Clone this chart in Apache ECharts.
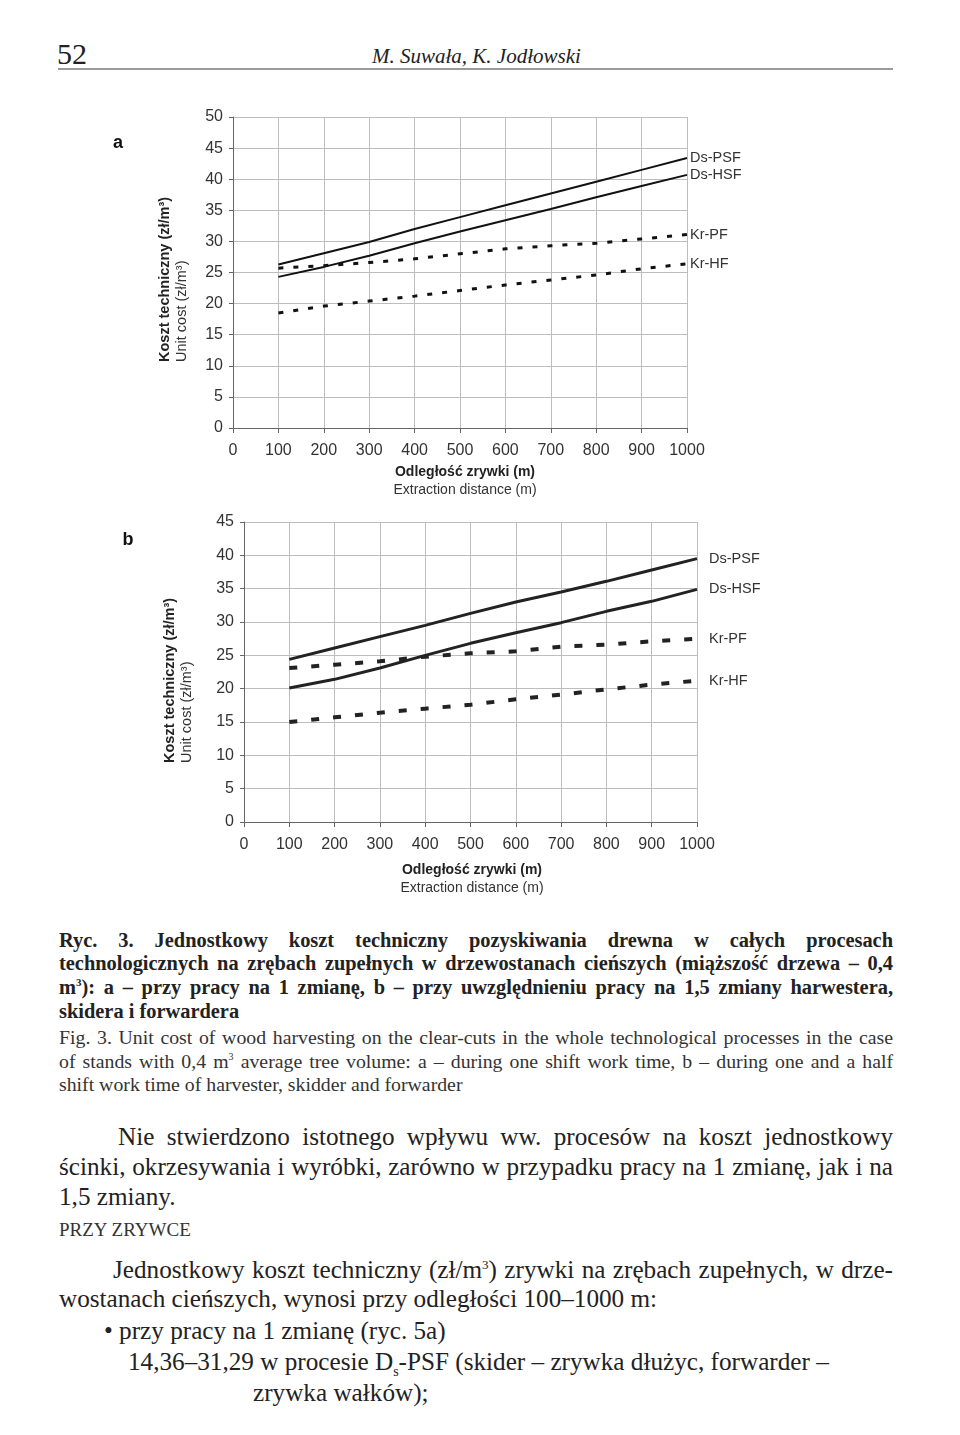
<!DOCTYPE html>
<html>
<head>
<meta charset="utf-8">
<script src="https://cdn.jsdelivr.net/npm/echarts@6/dist/echarts.min.js"></script>
<style>
  body { margin: 0; width: 960px; height: 1435px; background: #fff; position: relative; overflow: hidden;
         font-family: "Liberation Serif", serif; color: #222; }
  .abs { position: absolute; white-space: nowrap; }
  .j { position: absolute; text-align: justify; text-align-last: justify; }
  .cap { font-size: 20.4px; font-weight: bold; line-height: 24px; height: 24px; left: 59px; width: 834px; }
  .capr { font-size: 19.8px; line-height: 24px; height: 24px; left: 59px; width: 834px; color: #333; }
  .body { font-size: 25.2px; line-height: 30px; height: 30px; }
  #chartA { position: absolute; left: 0; top: 90px; width: 960px; height: 420px; }
  #chartB { position: absolute; left: 0; top: 500px; width: 960px; height: 400px; }
</style>
</head>
<body>
<div class="abs" style="left:57px;top:37px;font-size:30px;line-height:34px;">52</div>
<div class="abs" style="left:372px;top:42px;font-size:21px;line-height:28px;font-style:italic;">M. Suwała, K. Jodłowski</div>
<div class="abs" style="left:58px;top:68px;width:835px;height:2px;background:#9a9a9a;"></div>

<div id="chartA"></div>
<div id="chartB"></div>

<div class="j cap" style="top:928px;">Ryc. 3. Jednostkowy koszt techniczny pozyskiwania drewna w całych procesach</div>
<div class="j cap" style="top:951px;">technologicznych na zrębach zupełnych w drzewostanach cieńszych (miąższość drzewa – 0,4</div>
<div class="j cap" style="top:975px;">m<sup style="font-size:11px;line-height:0;">3</sup>): a – przy pracy na 1 zmianę, b – przy uwzględnieniu pracy na 1,5 zmiany harwestera,</div>
<div class="abs cap" style="top:999px;">skidera i forwardera</div>
<div class="j capr" style="top:1025px;">Fig. 3. Unit cost of wood harvesting on the clear-cuts in the whole technological processes in the case</div>
<div class="j capr" style="top:1049px;">of stands with 0,4 m<sup style="font-size:10px;line-height:0;">3</sup> average tree volume: a – during one shift work time, b – during one and a half</div>
<div class="abs capr" style="top:1072px;">shift work time of harvester, skidder and forwarder</div>

<div class="j body" style="top:1122px;left:118px;width:775px;">Nie stwierdzono istotnego wpływu ww. procesów na koszt jednostkowy</div>
<div class="j body" style="top:1152px;left:59px;width:834px;word-spacing:-3px;">ścinki, okrzesywania i wyróbki, zarówno w przypadku pracy na 1 zmianę, jak i na</div>
<div class="abs body" style="top:1182px;left:59px;">1,5 zmiany.</div>
<div class="abs" style="top:1219px;left:59px;font-size:19px;line-height:22px;color:#333;">PRZY ZRYWCE</div>
<div class="j body" style="top:1255px;left:113px;width:780px;word-spacing:-1px;">Jednostkowy koszt techniczny (zł/m<sup style="font-size:13px;line-height:0;">3</sup>) zrywki na zrębach zupełnych, w drze-</div>
<div class="abs body" style="top:1284px;left:59px;">wostanach cieńszych, wynosi przy odległości 100–1000 m:</div>
<div class="abs body" style="top:1316px;left:104px;">• przy pracy na 1 zmianę (ryc. 5a)</div>
<div class="abs body" style="top:1347px;left:128px;">14,36–31,29 w procesie D<sub style="font-size:14px;line-height:0;">s</sub>-PSF (skider – zrywka dłużyc, forwarder –</div>
<div class="abs body" style="top:1378px;left:253px;">zrywka wałków);</div>

<script>
  // odległość zrywki (m)
  const distances = [100, 200, 300, 400, 500, 600, 700, 800, 900, 1000];

  // wykres a – praca na 1 zmianę
  const dsPsfA = [26.3, 28.1, 29.9, 32.0, 33.9, 35.8, 37.7, 39.6, 41.5, 43.4];
  const dsHsfA = [24.3, 25.9, 27.7, 29.7, 31.6, 33.4, 35.2, 37.1, 38.9, 40.7];
  const krPfA = [25.7, 26.1, 26.6, 27.2, 28.0, 28.8, 29.3, 29.7, 30.4, 31.1];
  const krHfA = [18.5, 19.6, 20.4, 21.2, 22.1, 23.0, 23.8, 24.6, 25.6, 26.4];

  // wykres b – praca na 1,5 zmiany
  const dsPsfB = [24.4, 26.1, 27.8, 29.5, 31.3, 33.0, 34.5, 36.1, 37.8, 39.5];
  const dsHsfB = [20.1, 21.4, 23.1, 25.0, 26.8, 28.4, 29.9, 31.6, 33.1, 34.9];
  const krPfB = [23.1, 23.6, 24.1, 24.8, 25.3, 25.6, 26.3, 26.6, 27.1, 27.5];
  const krHfB = [15.0, 15.7, 16.4, 17.0, 17.6, 18.4, 19.1, 19.9, 20.6, 21.2];

  const seriesNames = ['Ds-PSF', 'Ds-HSF', 'Kr-PF', 'Kr-HF'];
  const sans = '"Liberation Sans", Arial, sans-serif';

  const pairs = (vals) => vals.map((v, i) => [distances[i], v]);

  const makeSeries = (data, opts) => data.map((vals, i) => {
    const solid = i < 2;
    return {
      name: seriesNames[i],
      type: 'line',
      data: pairs(vals),
      showSymbol: false,
      symbol: 'none',
      lineStyle: {
        color: opts.color,
        width: solid ? opts.solidWidth : opts.dashWidth,
        type: solid ? 'solid' : opts.dash,
        cap: 'butt'
      },
      endLabel: {
        show: true,
        formatter: '{a}',
        distance: opts.labelGap,
        color: '#333',
        fontSize: 14.5,
        fontFamily: sans
      },
      silent: true
    };
  });

  const makeOption = (cfg) => ({
    animation: false,
    textStyle: { fontFamily: sans },
    grid: cfg.grid,
    xAxis: {
      type: 'value',
      min: 0,
      max: 1000,
      interval: 100,
      axisLine: { show: true, onZero: false, lineStyle: { color: '#666', width: 1 } },
      axisTick: { show: true, length: 5, lineStyle: { color: '#666' } },
      axisLabel: { color: '#333', fontSize: 16, margin: 15, fontFamily: sans, formatter: (v) => String(v) },
      splitLine: { show: true, lineStyle: { color: '#bdbdbd', width: 1 } }
    },
    yAxis: {
      type: 'value',
      min: 0,
      max: cfg.yMax,
      interval: 5,
      axisLine: { show: true, lineStyle: { color: '#666', width: 1 } },
      axisTick: { show: true, length: 4, lineStyle: { color: '#666' } },
      axisLabel: { color: '#333', fontSize: 16, margin: 10, fontFamily: sans },
      splitLine: { show: true, lineStyle: { color: '#bdbdbd', width: 1 } }
    },
    graphic: [
      { type: 'text', x: cfg.letter[0], y: cfg.letter[1],
        style: { text: cfg.letterText, font: 'bold 18px ' + sans, fill: '#111', textAlign: 'center', textVerticalAlign: 'middle' } },
      { type: 'text', x: cfg.yName[0], y: cfg.yName[1], rotation: Math.PI / 2,
        style: { text: 'Koszt techniczny (zł/m³)', font: 'bold 14.5px ' + sans, fill: '#222', textAlign: 'left', textVerticalAlign: 'middle' } },
      { type: 'text', x: cfg.yName[0] + 17, y: cfg.yName[1], rotation: Math.PI / 2,
        style: { text: 'Unit cost (zł/m³)', font: '14.5px ' + sans, fill: '#333', textAlign: 'left', textVerticalAlign: 'middle' } },
      { type: 'text', x: cfg.xName[0], y: cfg.xName[1],
        style: { text: 'Odległość zrywki (m)', font: 'bold 14px ' + sans, fill: '#222', textAlign: 'center', textVerticalAlign: 'middle' } },
      { type: 'text', x: cfg.xName[0], y: cfg.xName[1] + 18,
        style: { text: 'Extraction distance (m)', font: '14px ' + sans, fill: '#333', textAlign: 'center', textVerticalAlign: 'middle' } }
    ],
    series: makeSeries(cfg.data, cfg.line)
  });

  const chartA = echarts.init(document.getElementById('chartA'));
  chartA.setOption(makeOption({
    grid: { left: 233, top: 27, width: 454, height: 311 },
    yMax: 50,
    letterText: 'a',
    letter: [118, 53],
    yName: [165, 272],
    xName: [465, 382],
    data: [dsPsfA, dsHsfA, krPfA, krHfA],
    line: { color: '#111', solidWidth: 2, dashWidth: 3, dash: [5, 10], labelGap: 3 }
  }));

  const chartB = echarts.init(document.getElementById('chartB'));
  chartB.setOption(makeOption({
    grid: { left: 244, top: 22, width: 453, height: 300 },
    yMax: 45,
    letterText: 'b',
    letter: [128, 40],
    yName: [170, 263],
    xName: [472, 370],
    data: [dsPsfB, dsHsfB, krPfB, krHfB],
    line: { color: '#222', solidWidth: 3, dashWidth: 4, dash: [8, 14], labelGap: 12 }
  }));
</script>
</body>
</html>
